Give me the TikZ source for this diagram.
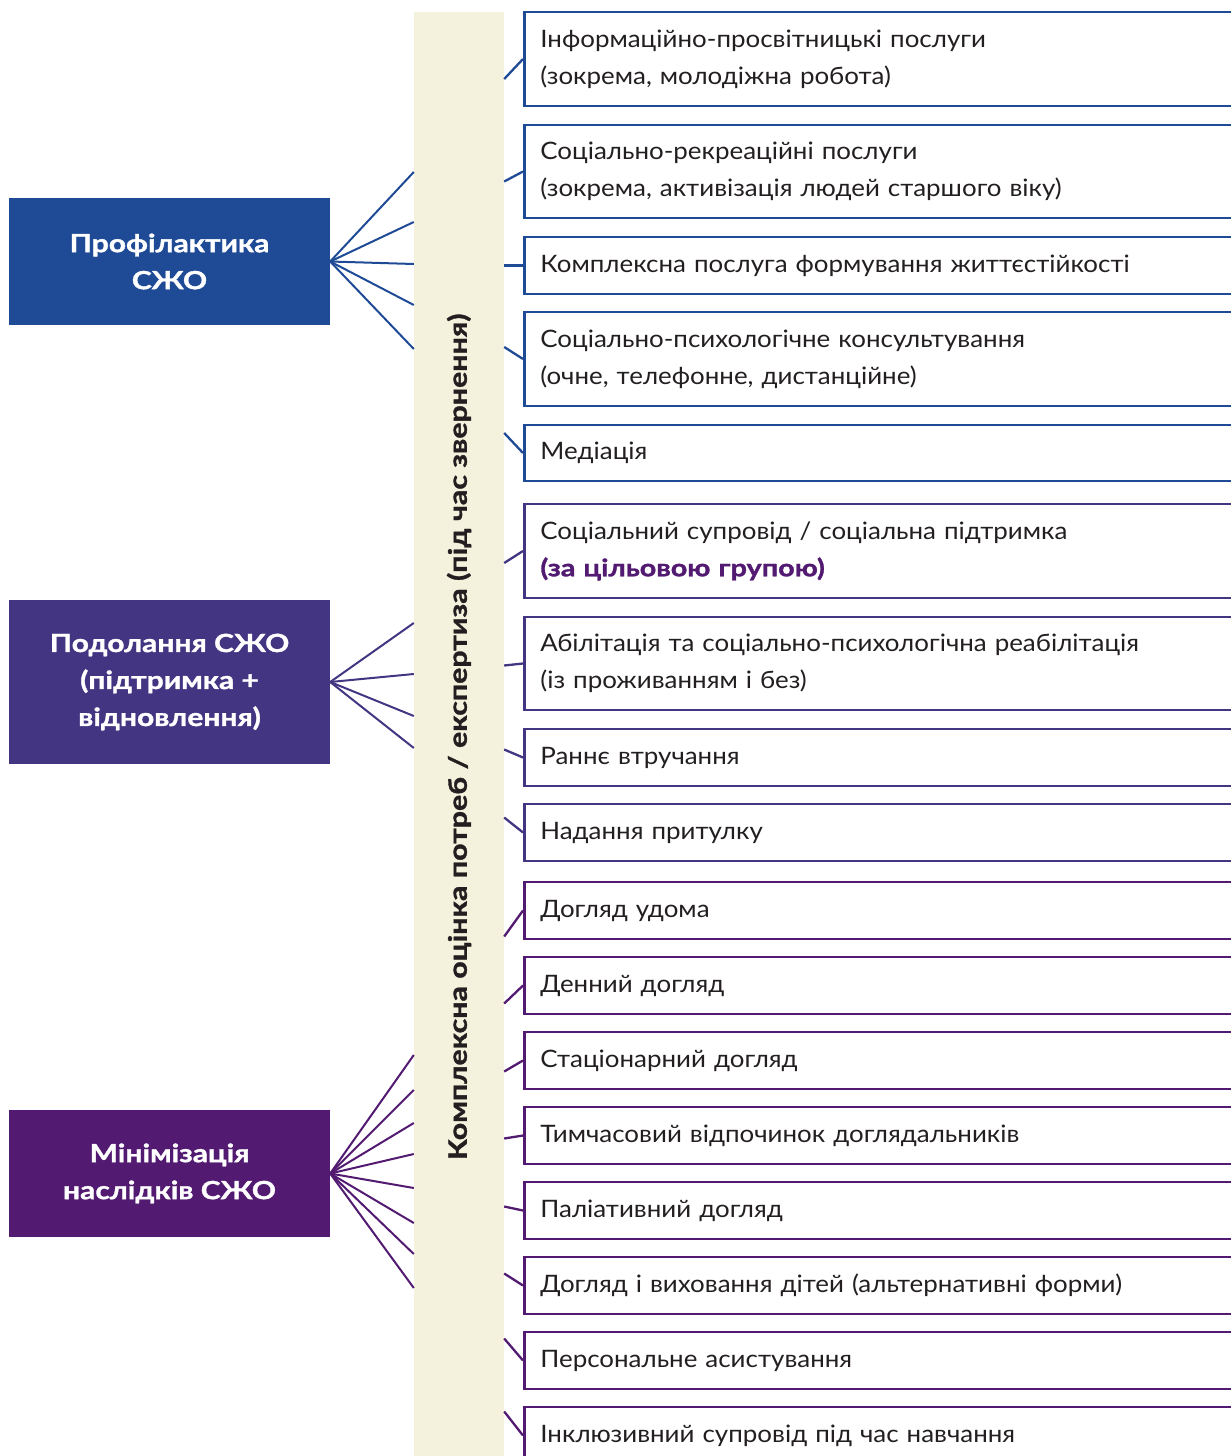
\documentclass[tikz,border=0pt]{standalone}
\usepackage{fontspec}
\setmainfont{Lato}[UprightFeatures={FakeStretch=1.08}, BoldFeatures={FakeStretch=1.2, FakeBold=1.3}]
\usetikzlibrary{calc}

\definecolor{prevblue}{HTML}{1F4B96}
\definecolor{overindigo}{HTML}{433581}
\definecolor{minpurple}{HTML}{521A71}
\definecolor{barbeige}{HTML}{F4F2DC}
\definecolor{txtgray}{HTML}{231F20}

\tikzset{
	catbox/.style={fill=#1, text=white, font=\bfseries\fontsize{25}{37}\selectfont, align=center, minimum width=321pt, inner sep=0pt},
	svc/.style={draw=#1, line width=2.8pt, anchor=west, text=txtgray, font=\fontsize{24}{37}\selectfont, text width=700pt, inner xsep=16pt, align=left},
	fan/.style={draw=#1, line width=2pt},
	link/.style={draw=#1, line width=2.3pt}
}

\begin{document}
\begin{tikzpicture}[x=1pt, y=-1pt]
\useasboundingbox (0,0) rectangle (1231,1456);
\clip (0,0) rectangle (1231,1456);

% assessment bar
\node[fill=barbeige, minimum width=90pt, minimum height=1444pt, inner sep=0pt] (bar) at (459,734) {};
\node[rotate=90, text=txtgray, font=\bfseries\fontsize{25.3}{30}\selectfont] (barlabel) at (459,737) {Комплексна оцінка потреб / експертиза (під час звернення)};

% categories
\node[catbox=prevblue, minimum height=127pt] (prof) at (169.5,261.5) {Профілактика\\СЖО};
\node[catbox=overindigo, minimum height=164pt] (over) at (169.5,682) {Подолання СЖО\\(підтримка +\\відновлення)};
\node[catbox=minpurple, minimum height=127pt] (mini) at (169.5,1173.5) {Мінімізація\\наслідків СЖО};

\foreach \y in {172,222,264,305,349}
	\draw[fan=prevblue] (prof.east) -- (bar.west |- 0,\y);
\foreach \y in {623,674,716,748}
	\draw[fan=overindigo] (over.east) -- (bar.west |- 0,\y);
\foreach \y in {1055,1090,1123,1154,1188,1223,1254,1288}
	\draw[fan=minpurple] (mini.east) -- (bar.west |- 0,\y);

% services
\node[svc=prevblue, minimum height=94pt] (s1) at (523,59) {Інформаційно-просвітницькі послуги\\(зокрема, молодіжна робота)};
\node[svc=prevblue, minimum height=93pt] (s2) at (523,171.5) {Соціально-рекреаційні послуги\\(зокрема, активізація людей старшого віку)};
\node[svc=prevblue, minimum height=57pt] (s3) at (523,265.5) {Комплексна послуга формування життєстійкості};
\node[svc=prevblue, minimum height=94pt] (s4) at (523,359) {Соціально-психологічне консультування\\(очне, телефонне, дистанційне)};
\node[svc=prevblue, minimum height=56pt] (s5) at (523,453) {Медіація};
\node[svc=overindigo, minimum height=94pt] (s6) at (523,551) {Соціальний супровід / соціальна підтримка\\{\color{minpurple}\bfseries(за цільовою групою)}};
\node[svc=overindigo, minimum height=93pt] (s7) at (523,663.5) {Абілітація та соціально-психологічна реабілітація\\(із проживанням і без)};
\node[svc=overindigo, minimum height=57pt] (s8) at (523,757.5) {Раннє втручання};
\node[svc=overindigo, minimum height=57pt] (s9) at (523,832.5) {Надання притулку};
\node[svc=minpurple, minimum height=57pt] (s10) at (523,910.5) {Догляд удома};
\node[svc=minpurple, minimum height=57pt] (s11) at (523,985.5) {Денний догляд};
\node[svc=minpurple, minimum height=57pt] (s12) at (523,1060.5) {Стаціонарний догляд};
\node[svc=minpurple, minimum height=57pt] (s13) at (523,1135.5) {Тимчасовий відпочинок доглядальників};
\node[svc=minpurple, minimum height=57pt] (s14) at (523,1210.5) {Паліативний догляд};
\node[svc=minpurple, minimum height=57pt] (s15) at (523,1285.5) {Догляд і виховання дітей (альтернативні форми)};
\node[svc=minpurple, minimum height=57pt] (s16) at (523,1360.5) {Персональне асистування};
\node[svc=minpurple, minimum height=57pt] (s17) at (523,1435.5) {Інклюзивний супровід під час навчання};

\foreach \i/\d/\c in {1/20/prevblue,2/10/prevblue,3/0/prevblue,4/-12/prevblue,5/-20/prevblue,
	6/12/overindigo,7/2/overindigo,8/-8/overindigo,9/-15/overindigo,
	10/26/minpurple,11/18/minpurple,12/11/minpurple,13/3/minpurple,14/-4/minpurple,15/-12/minpurple,16/-22/minpurple,17/-24/minpurple}
	\draw[link=\c] (s\i.west) -- ($(bar.east |- s\i.west)+(0,\d)$);
\end{tikzpicture}
\end{document}
